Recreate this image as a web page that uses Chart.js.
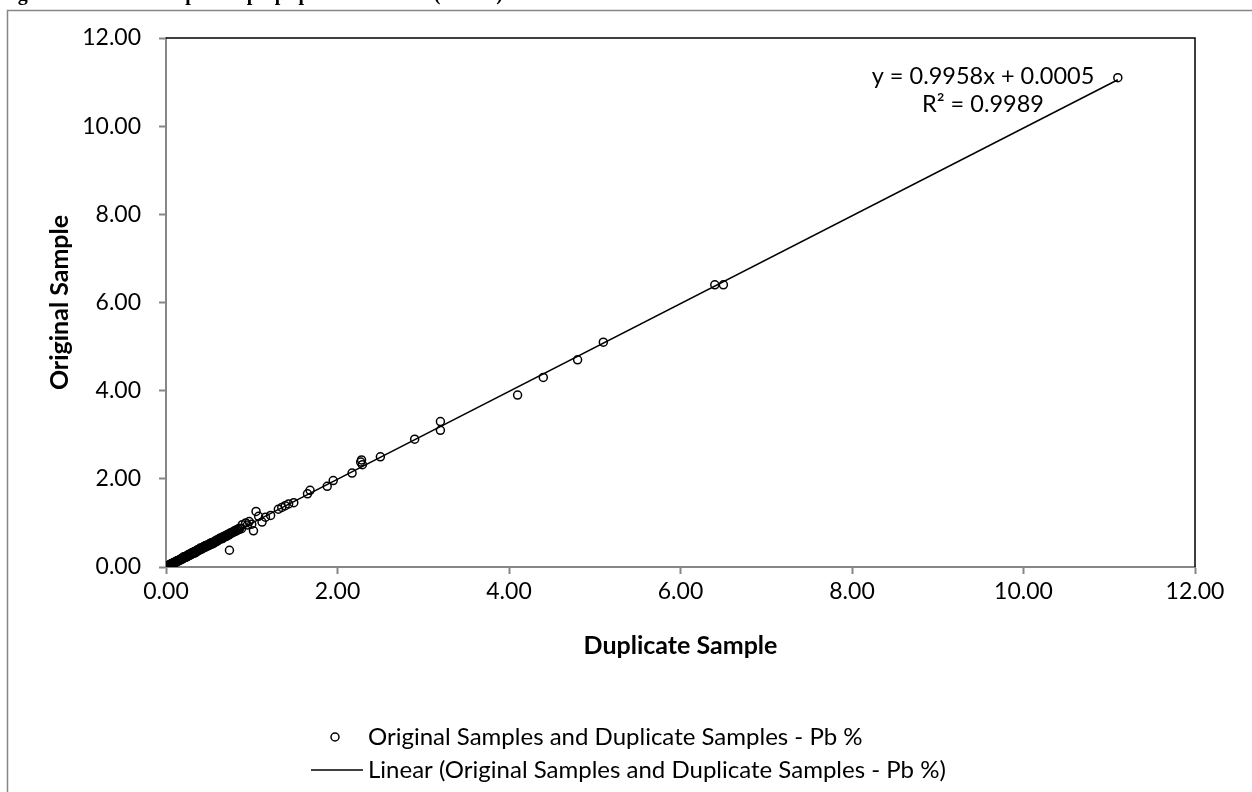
<!DOCTYPE html>
<html lang="en">
<head>
  <meta charset="UTF-8" />
  <title>Duplicate pulp split results - Pb</title>
  <style>
    body { margin: 0; background: #fff; overflow: hidden; }
    #wrap { position: relative; width: 1252px; height: 792px; }
    #chart { position: absolute; left: 0; top: 0; }
    .fig-title {
      position: absolute; left: 0; top: -17px; margin: 0;
      font: bold 20px/20px "Liberation Serif", "Times New Roman", serif;
      color: #000; white-space: nowrap; z-index: 2;
    }
  </style>
  <script src="https://cdn.jsdelivr.net/npm/chart.js"></script>
</head>
<body>
  <div id="wrap">
    <p class="fig-title">Figure 10.17: 2012 duplicate pulp split results - Pb (N=404)</p>
    <canvas id="chart" width="1252" height="792"></canvas>
  </div>

  <script>
    // Duplicate (x) and original (y) assays, Pb %
    const duplicateSample = [
      0.00, 0.01, 0.01, 0.02, 0.02, 0.03, 0.03, 0.04, 0.04, 0.05,
      0.05, 0.06, 0.06, 0.07, 0.07, 0.08, 0.08, 0.09, 0.09, 0.10,
      0.10, 0.11, 0.11, 0.12, 0.12, 0.13, 0.13, 0.14, 0.15, 0.15,
      0.16, 0.16, 0.17, 0.18, 0.18, 0.19, 0.20, 0.20, 0.21, 0.22,
      0.22, 0.23, 0.24, 0.24, 0.25, 0.26, 0.26, 0.27, 0.28, 0.28,
      0.29, 0.30, 0.30, 0.31, 0.32, 0.33, 0.33, 0.34, 0.35, 0.36,
      0.36, 0.37, 0.38, 0.39, 0.40, 0.40, 0.41, 0.42, 0.43, 0.43,
      0.44, 0.45, 0.46, 0.46, 0.47, 0.48, 0.49, 0.50, 0.51, 0.52,
      0.53, 0.54, 0.55, 0.56, 0.57, 0.58, 0.59, 0.60, 0.61, 0.62,
      0.63, 0.64, 0.65, 0.66, 0.67, 0.68, 0.69, 0.70, 0.71, 0.72,
      0.73, 0.74, 0.75, 0.76, 0.77, 0.78, 0.79, 0.80, 0.81, 0.82,
      0.83, 0.84, 0.85, 0.86, 0.88,
      0.02, 0.03, 0.05, 0.06, 0.08, 0.11, 0.14, 0.17, 0.19, 0.21,
      0.23, 0.25, 0.27, 0.29, 0.31, 0.34, 0.37, 0.39, 0.41, 0.44,
      0.47, 0.50, 0.52, 0.55, 0.57, 0.60, 0.63, 0.66, 0.70, 0.73,
      0.74, 0.89, 0.93, 0.95, 0.97, 1.00, 1.02, 1.05, 1.08, 1.12,
      1.16, 1.22, 1.31, 1.35, 1.39, 1.43, 1.49, 1.65, 1.68, 1.88,
      1.95, 2.17, 2.27, 2.28, 2.29, 2.50, 2.90, 3.20, 3.20, 4.10,
      4.40, 4.80, 5.10, 6.40, 6.50, 11.10
    ];
    const originalSample = [
      0.00, 0.01, 0.02, 0.01, 0.02, 0.03, 0.02, 0.04, 0.05, 0.04,
      0.05, 0.06, 0.07, 0.06, 0.08, 0.08, 0.07, 0.09, 0.10, 0.10,
      0.09, 0.12, 0.11, 0.12, 0.13, 0.12, 0.14, 0.14, 0.15, 0.14,
      0.17, 0.16, 0.17, 0.18, 0.19, 0.18, 0.20, 0.22, 0.21, 0.21,
      0.23, 0.24, 0.23, 0.25, 0.26, 0.25, 0.28, 0.27, 0.29, 0.27,
      0.30, 0.29, 0.32, 0.31, 0.33, 0.32, 0.35, 0.34, 0.36, 0.35,
      0.38, 0.37, 0.39, 0.38, 0.41, 0.43, 0.40, 0.43, 0.42, 0.45,
      0.44, 0.47, 0.45, 0.48, 0.47, 0.50, 0.48, 0.51, 0.53, 0.51,
      0.55, 0.54, 0.56, 0.55, 0.58, 0.60, 0.58, 0.62, 0.61, 0.64,
      0.63, 0.66, 0.64, 0.68, 0.67, 0.70, 0.69, 0.72, 0.71, 0.73,
      0.75, 0.74, 0.77, 0.76, 0.79, 0.78, 0.80, 0.82, 0.81, 0.84,
      0.83, 0.86, 0.85, 0.88, 0.87,
      0.03, 0.04, 0.06, 0.05, 0.09, 0.10, 0.15, 0.16, 0.20, 0.23,
      0.22, 0.24, 0.29, 0.28, 0.33, 0.32, 0.39, 0.41, 0.42, 0.46,
      0.49, 0.49, 0.54, 0.53, 0.56, 0.59, 0.65, 0.65, 0.69, 0.72,
      0.38, 0.96, 1.00, 0.95, 1.03, 0.97, 0.82, 1.26, 1.15, 1.02,
      1.13, 1.17, 1.31, 1.35, 1.39, 1.43, 1.46, 1.66, 1.74, 1.83,
      1.96, 2.13, 2.38, 2.43, 2.32, 2.50, 2.90, 3.30, 3.10, 3.90,
      4.30, 4.70, 5.10, 6.40, 6.40, 11.10
    ];

    // Excel linear trendline as printed on the chart
    const trendSlope = 0.9958;
    const trendIntercept = 0.0005;
    const trendRSquared = 0.9989;

    const seriesLabel = 'Original Samples and Duplicate Samples - Pb %';
    const trendLabel = 'Linear (Original Samples and Duplicate Samples - Pb %)';

    const axisTicks = [0, 2, 4, 6, 8, 10, 12];

    const points = duplicateSample.map((x, i) => ({ x: x, y: originalSample[i] }));
    const xMin = Math.min(...duplicateSample);
    const xMax = Math.max(...duplicateSample);
    const trendPoints = [
      { x: xMin, y: trendSlope * xMin + trendIntercept },
      { x: xMax, y: trendSlope * xMax + trendIntercept }
    ];

    const FONT = 'Lato, "Open Sans", sans-serif';
    const AXIS_GREY = '#868686';
    Chart.defaults.font.family = FONT;
    Chart.defaults.color = '#000';

    // Frame, top/right plot border, equation and legend
    const excelDecor = {
      id: 'excelDecor',
      afterDraw(chart) {
        const ctx = chart.ctx;
        const a = chart.chartArea;
        ctx.save();

        // outer chart frame (runs off the picture at right and bottom)
        ctx.strokeStyle = AXIS_GREY;
        ctx.lineWidth = 1.5;
        ctx.strokeRect(7.5, 10.5, 1400, 900);

        // plot area top and right edges
        ctx.strokeStyle = '#000';
        ctx.lineWidth = 1.5;
        ctx.beginPath();
        ctx.moveTo(a.left, a.top);
        ctx.lineTo(a.right, a.top);
        ctx.lineTo(a.right, a.bottom);
        ctx.stroke();

        // trendline equation
        ctx.fillStyle = '#000';
        ctx.font = '23.5px ' + FONT;
        ctx.textAlign = 'center';
        ctx.textBaseline = 'middle';
        ctx.fillText('y = ' + trendSlope.toFixed(4) + 'x + ' + trendIntercept.toFixed(4), 983, 76);
        ctx.fillText('R\u00B2 = ' + trendRSquared.toFixed(4), 983, 104);

        // legend
        const ds = chart.data.datasets;
        ctx.font = '24px ' + FONT;
        ctx.textAlign = 'left';
        ctx.lineWidth = 1.5;
        ctx.beginPath();
        ctx.arc(335, 737, 4, 0, Math.PI * 2);
        ctx.stroke();
        ctx.fillText(ds[0].label, 368, 737);

        ctx.beginPath();
        ctx.moveTo(311, 770);
        ctx.lineTo(363, 770);
        ctx.stroke();
        ctx.fillText(ds[1].label, 368, 770);

        ctx.restore();
      }
    };

    const tickFormat = (v) => Number(v).toFixed(2);

    new Chart(document.getElementById('chart'), {
      type: 'scatter',
      data: {
        datasets: [
          {
            label: seriesLabel,
            data: points,
            pointStyle: 'circle',
            pointRadius: 4,
            pointBorderWidth: 1.5,
            pointBorderColor: '#000',
            pointBackgroundColor: 'rgba(0,0,0,0)',
            order: 2
          },
          {
            label: trendLabel,
            data: trendPoints,
            showLine: true,
            borderColor: '#000',
            borderWidth: 1.5,
            pointRadius: 0,
            order: 1
          }
        ]
      },
      options: {
        responsive: false,
        animation: false,
        events: [],
        layout: { padding: { top: 38, right: 57, bottom: 125, left: 0 } },
        plugins: {
          legend: { display: false },
          tooltip: { enabled: false }
        },
        scales: {
          x: {
            type: 'linear',
            min: 0,
            max: 12,
            afterBuildTicks: (s) => { s.ticks = axisTicks.map(v => ({ value: v })); },
            afterFit: (s) => { s.height = 100; },
            border: { display: true, color: AXIS_GREY, width: 2 },
            grid: { drawOnChartArea: false, drawTicks: true, tickLength: 7, color: AXIS_GREY, tickWidth: 2 },
            ticks: { font: { size: 23 }, padding: 4, maxRotation: 0, callback: tickFormat },
            title: {
              display: true,
              text: 'Duplicate Sample',
              font: { size: 25, weight: 'bold' },
              padding: { top: 0, bottom: 6 }
            }
          },
          y: {
            type: 'linear',
            min: 0,
            max: 12,
            afterBuildTicks: (s) => { s.ticks = axisTicks.map(v => ({ value: v })); },
            afterFit: (s) => { s.width = 166; },
            border: { display: true, color: AXIS_GREY, width: 2 },
            grid: { drawOnChartArea: false, drawTicks: true, tickLength: 7, color: AXIS_GREY, tickWidth: 2 },
            ticks: { font: { size: 23 }, padding: 18, callback: tickFormat },
            title: {
              display: true,
              text: 'Original Sample',
              font: { size: 25, weight: 'bold' },
              padding: { top: 45, bottom: 0 }
            }
          }
        }
      },
      plugins: [excelDecor]
    });
  </script>
</body>
</html>
